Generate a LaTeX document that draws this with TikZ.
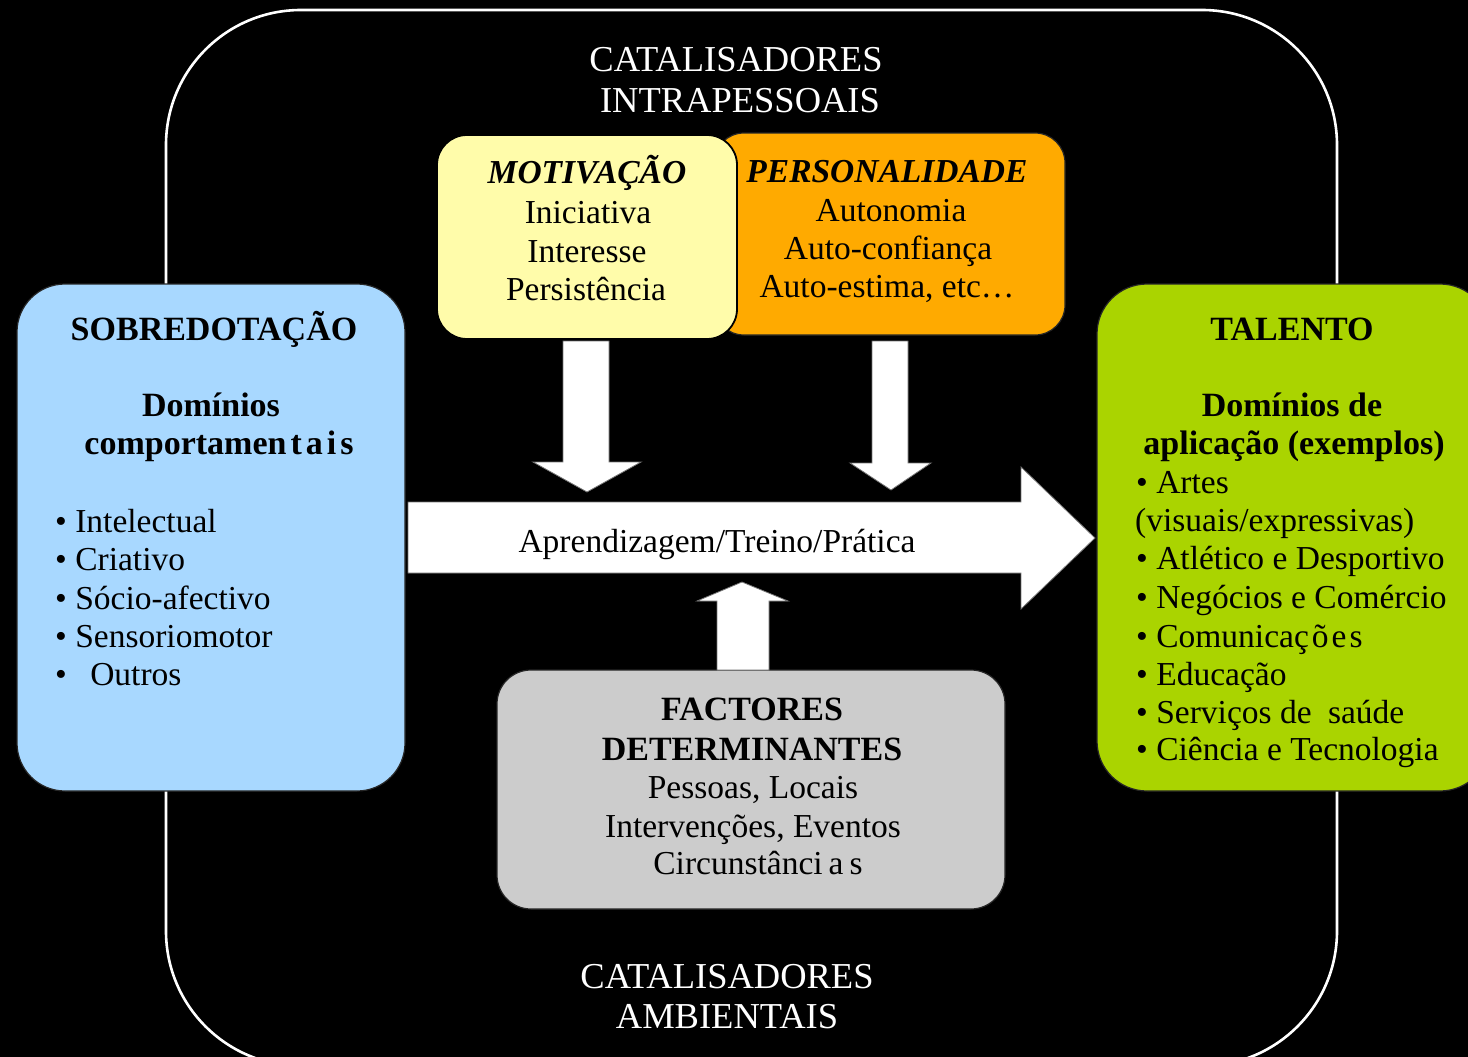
\documentclass[tikz,border=0pt]{standalone}
\usepackage{fontspec}
\setmainfont{Liberation Serif}
\definecolor{cblue}{HTML}{A8D8FF}
\definecolor{cyellow}{HTML}{FFFCAA}
\definecolor{corange}{HTML}{FFAA00}
\definecolor{cgreen}{HTML}{AAD400}
\definecolor{cgray}{HTML}{CCCCCC}
\begin{document}
\begin{tikzpicture}[x=1pt,y=-1pt,
  panel/.style={draw=black!85, line width=1.2pt, inner sep=0pt, outer sep=0pt},
  txt/.style={anchor=base, inner sep=0pt, font=\fontsize{33.5}{38}\selectfont},
  btxt/.style={txt, font=\fontsize{34}{38}\selectfont\bfseries},
  bitxt/.style={txt, font=\fontsize{33.5}{38}\selectfont\bfseries\itshape},
  wtxt/.style={txt, text=white, font=\fontsize{36.5}{40}\selectfont},
  ltxt/.style={txt, anchor=base west},
  fatarrow/.style={fill=white, draw=black!55, line width=0.8pt}
]
\useasboundingbox (0,0) rectangle (1468,1057);
\fill[black] (0,0) rectangle (1468,1057);
% outer catalyst frame
\draw[white, line width=2.6pt, rounded corners=135pt] (166,10) rectangle (1337,1066);

% panels
\node[panel, fill=cblue, minimum width=388pt, minimum height=507pt, rounded corners=48pt] (sobre) at (211,537.5) {};
\node[panel, fill=cgreen, minimum width=393pt, minimum height=507pt, rounded corners=50pt] (talento) at (1293.5,537.5) {};
\node[panel, fill=corange, minimum width=351pt, minimum height=202pt, rounded corners=30pt] (pers) at (889.5,234) {};
\node[panel, fill=cyellow, draw=black, line width=1.8pt, minimum width=300pt, minimum height=204pt, rounded corners=30pt] (motiv) at (587,237) {};
\node[panel, fill=cgray, minimum width=508pt, minimum height=239pt, rounded corners=34pt] (fact) at (751,789.5) {};

% fat arrows
\draw[fatarrow] (563,341) -- (609,341) -- (609,462) -- (641,462) -- (587,492) -- (533,462) -- (563,462) -- cycle;
\draw[fatarrow] (872,341) -- (908,341) -- (908,463) -- (931,463) -- (891,490) -- (850,463) -- (872,463) -- cycle;
\draw[fatarrow] (408,502) -- (1021,502) -- (1021,467) -- (1095,538) -- (1021,609) -- (1021,573) -- (408,573) -- cycle;
\draw[fatarrow] (717,670) -- (717,601) -- (697,601) -- (742,582) -- (788,601) -- (769,601) -- (769,670) -- cycle;

% catalyst titles
\node[wtxt] (ci1) at (736,72) {CATALISADORES};
\node[wtxt] (ci2) at (740,112) {INTRAPESSOAIS};
\node[wtxt] (ca1) at (727,988) {CATALISADORES};
\node[wtxt] (ca2) at (727,1028) {AMBIENTAIS};

% sobredotacao
\node[btxt] (s1) at (214,340) {SOBREDOTAÇÃO};
\node[btxt] (s2) at (211,416) {Domínios};
\node[btxt] (s3) at (219,454) {comportamen\kern4pt t\kern4pt a\kern4pt i\kern4pt s};
\node[ltxt] (s4) at (55,532) {• Intelectual};
\node[ltxt] (s5) at (55,570) {• Criativo};
\node[ltxt] (s6) at (55,609) {• Sócio-afectivo};
\node[ltxt] (s7) at (55,647) {• Sensoriomotor};
\node[ltxt] (s8) at (55,685) {•\hspace{15pt} Outros};

% motivacao
\node[bitxt] (m1) at (587,183) {MOTIVAÇÃO};
\node[txt] (m2) at (588,223) {Iniciativa};
\node[txt] (m3) at (587,262) {Interesse};
\node[txt] (m4) at (586,300) {Persistência};

% personalidade
\node[bitxt] (p1) at (887,182) {PERSONALIDADE};
\node[txt] (p2) at (891,221) {Autonomia};
\node[txt] (p3) at (888,259) {Auto-confiança};
\node[txt] (p4) at (887,297) {Auto-estima, etc…};

% arrow label
\node[txt] (ap) at (717,552) {Aprendizagem/Treino/Prática};

% factores
\node[btxt] (f1) at (752,720) {FACTORES};
\node[btxt] (f2) at (752,760) {DETERMINANTES};
\node[txt] (f3) at (753,798) {Pessoas, Locais};
\node[txt] (f4) at (753,837) {Intervenções, Eventos};
\node[txt] (f5) at (758,874) {Circunstânci\kern6pt a\kern6pt s};

% talento
\node[btxt] (t1) at (1292,340) {TALENTO};
\node[btxt] (t2) at (1292,416) {Domínios de};
\node[btxt] (t3) at (1294,454) {aplicação (exemplos)};
\node[ltxt] (t4) at (1136,493) {• Artes};
\node[ltxt] (t5) at (1135,531) {(visuais/expressivas)};
\node[ltxt] (t6) at (1136,569) {• Atlético e Desportivo};
\node[ltxt] (t7) at (1136,608) {• Negócios e Comércio};
\node[ltxt] (t8) at (1136,647) {• Comunicaç\kern3pt õ\kern3pt e\kern3pt s};
\node[ltxt] (t9) at (1136,685) {• Educação};
\node[ltxt] (t10) at (1136,723) {• Serviços de\hspace{8pt} saúde};
\node[ltxt] (t11) at (1136,760) {• Ciência e Tecnologia};
\end{tikzpicture}
\end{document}
